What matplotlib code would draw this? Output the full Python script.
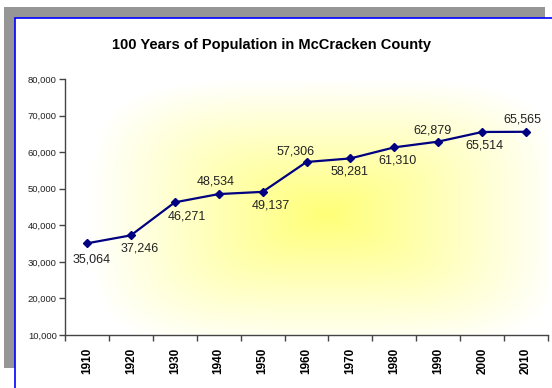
import numpy as np
import matplotlib
matplotlib.use("Agg")
import matplotlib.pyplot as plt
from matplotlib.patches import Rectangle
from matplotlib.ticker import FuncFormatter, FixedLocator
from matplotlib.colors import to_rgb

plt.rcParams["font.family"] = ["Liberation Sans", "DejaVu Sans"]

years = ["1910", "1920", "1930", "1940", "1950", "1960",
         "1970", "1980", "1990", "2000", "2010"]
population = [35064, 37246, 46271, 48534, 49137, 57306,
              58281, 61310, 62879, 65514, 65565]

# pixel offsets of each value label from its point (x right, y up)
label_offsets = [(5, -16), (9, -13), (12, -14), (-3, 13), (8, -14), (-11, 10),
                 (-1, -13), (3, -13), (-6, 11), (2, -14), (-4, 12)]

W, H = 552, 388
fig = plt.figure(figsize=(W / 100, H / 100), dpi=100, facecolor="white")


def px(x, y):
    # pixel coords (top-left origin) -> figure fraction
    return x / W, 1 - y / H


# grey shadow frame and the white chart panel with blue edge
x0, y0 = px(4, 368)
fig.patches.append(Rectangle((x0, y0), 541 / W, 361 / H, transform=fig.transFigure,
                             facecolor="#969696", edgecolor="none", zorder=0))
x0, y0 = px(15, 400)
fig.patches.append(Rectangle((x0, y0), 560 / W, 382 / H, transform=fig.transFigure,
                             facecolor="white", edgecolor="#0000ff", linewidth=1.2,
                             zorder=1))

ax = fig.add_axes([65 / W, 1 - 335 / H, 483 / W, 256 / H])
ax.set_facecolor("none")
ax.set_zorder(2)

# path gradient: pale yellow in the middle fading out to white at the edges
gx, gy = np.meshgrid(np.linspace(0, 1, 400), np.linspace(0, 1, 260))
cx, cy, rx, ry = 0.54, 0.47, 0.49, 0.53
p = 4
d = (np.abs((gx - cx) / rx) ** p + np.abs((gy - cy) / ry) ** p) ** (1 / p)
t = np.clip(1 - d, 0, 1)
yellow = np.array(to_rgb("#ffff78"))
img = np.ones((260, 400, 3)) * (1 - t[..., None]) + yellow * t[..., None]
ax.imshow(img, extent=(0, 1, 0, 1), transform=ax.transAxes, origin="lower",
          aspect="auto", zorder=0, interpolation="bilinear")

x = np.arange(len(years))
ax.plot(x, population, color="#000080", linewidth=1.6, marker="D",
        markersize=4.2, zorder=3)

for xi, v, (dx, dy) in zip(x, population, label_offsets):
    ax.annotate(f"{v:,}", (xi, v), xytext=(dx, dy), textcoords="offset pixels",
                ha="center", va="center", fontsize=9, color="#222222", zorder=4)

ax.set_xlim(-0.5, len(years) - 0.5)
ax.set_ylim(10000, 80000)
ax.set_yticks(np.arange(10000, 80001, 10000))
ax.yaxis.set_major_formatter(FuncFormatter(lambda v, p: f"{int(v):,}"))

ax.xaxis.set_major_locator(FixedLocator(np.arange(-0.5, len(years), 1)))
ax.xaxis.set_major_formatter(FuncFormatter(lambda v, p: ""))
ax.xaxis.set_minor_locator(FixedLocator(x))
ax.set_xticklabels(years, minor=True, rotation=90, fontsize=8.5,
                   fontweight="bold")
ax.tick_params(axis="x", which="minor", length=0, pad=9)
ax.tick_params(axis="x", which="major", length=4, width=1, color="#444444",
               direction="out")
ax.tick_params(axis="y", length=4, width=1, color="#444444", labelsize=6.8,
               pad=2, labelcolor="#222222")

for side in ("top", "right"):
    ax.spines[side].set_visible(False)
for side in ("left", "bottom"):
    ax.spines[side].set_color("#444444")
    ax.spines[side].set_linewidth(1)

tx, ty = px(272, 45)
fig.text(tx, ty, "100 Years of Population in McCracken County", ha="center",
         va="center", fontsize=10.5, fontweight="bold", zorder=5)

fig.savefig("out.png", dpi=100)
